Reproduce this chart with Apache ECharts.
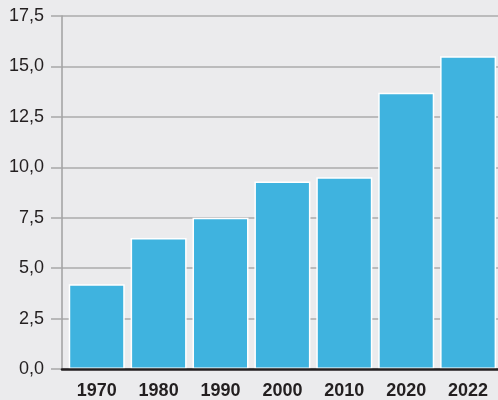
<!DOCTYPE html>
<html>
<head>
<meta charset="utf-8">
<script src="https://cdn.jsdelivr.net/npm/echarts@6/dist/echarts.min.js"></script>
<style>
html,body{margin:0;padding:0;background:#ebebed;}
#c{width:498px;height:400px;}
</style>
</head>
<body>
<div id="c"></div>
<script>
const categories = ['1970','1980','1990','2000','2010','2020','2022'];
const values = [4.2, 6.5, 7.5, 9.3, 9.5, 13.7, 15.5];
const yMin = 0, yMax = 17.5, yStep = 2.5;

const positions = categories.map((c, i) => i);
const chart = echarts.init(document.getElementById('c'));
chart.setOption({
  backgroundColor: '#ebebed',
  animation: false,
  grid: { left: 62, right: 0, top: 16, bottom: 30, containLabel: false },
  xAxis: {
    type: 'value',
    position: 'bottom',
    min: -0.561, max: 6.483,
    splitLine: { show: false },
    axisLine: { show: true, onZero: false, lineStyle: { color: '#231f20', width: 2.5 } },
    axisTick: { show: false },
    axisLabel: {
      customValues: positions,
      color: '#231f20', fontFamily: 'Liberation Sans, Arial, sans-serif', fontSize: 18, fontWeight: 'bold', margin: 13,
      formatter: v => categories[Math.round(v)]
    },
    z: 10
  },
  yAxis: {
    type: 'value',
    position: 'left',
    min: yMin, max: yMax, interval: yStep,
    axisLine: { show: true, onZero: false, lineStyle: { color: '#a0a0a0', width: 1.5 } },
    axisTick: { show: true, length: 11, lineStyle: { color: '#a8a8a8', width: 1.5 } },
    splitLine: { show: true, lineStyle: { color: '#ababab', width: 1.5 } },
    axisLabel: {
      color: '#231f20', fontFamily: 'Liberation Sans, Arial, sans-serif', fontSize: 18, margin: 18,
      formatter: v => v.toFixed(1).replace('.', ',')
    }
  },
  series: [{
    type: 'bar',
    z: 1,
    data: values.map((v, i) => [positions[i], v]),
    barWidth: 56,
    itemStyle: { color: '#3fb3df', borderColor: '#ffffff', borderWidth: 1.5 }
  }]
});
</script>
</body>
</html>
